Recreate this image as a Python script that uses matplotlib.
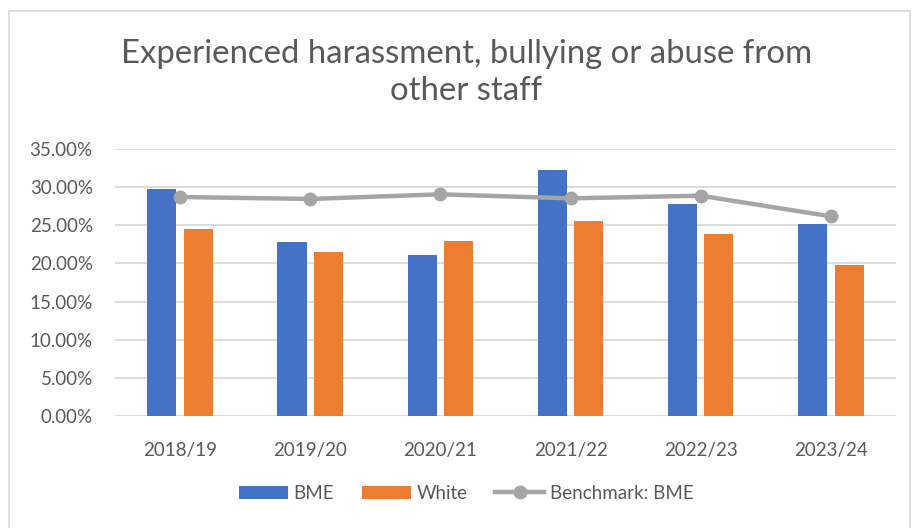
import matplotlib.pyplot as plt
import numpy as np
from matplotlib.patches import Rectangle
from matplotlib.ticker import PercentFormatter

years = ["2018/19", "2019/20", "2020/21", "2021/22", "2022/23", "2023/24"]
bme = [0.2971, 0.2281, 0.2106, 0.3225, 0.2779, 0.2517]
white = [0.2456, 0.2150, 0.2298, 0.2556, 0.2381, 0.1979]
benchmark_bme = [0.2871, 0.2845, 0.2906, 0.2853, 0.2888, 0.2617]

text_col = "#595959"
plt.rcParams["font.family"] = ["Lato", "DejaVu Sans"]

fig = plt.figure(figsize=(9.14, 5.28), dpi=100)
ax = fig.add_axes([0.1258, 0.2121, 0.8545, 0.5057])

x = np.arange(len(years))
w = 0.223
off = 0.14
b1 = ax.bar(x - off, bme, w, color="#4472C4", label="BME", zorder=2)
b2 = ax.bar(x + off, white, w, color="#ED7D31", label="White", zorder=2)
ln, = ax.plot(x, benchmark_bme, color="#A5A5A5", lw=3.2, marker="o", ms=9,
              label="Benchmark: BME", zorder=3)

ax.set_xlim(-0.5, len(years) - 0.5)
ax.set_ylim(0, 0.35)
ax.set_yticks(np.arange(0, 0.351, 0.05))
ax.yaxis.set_major_formatter(PercentFormatter(1.0, decimals=2))
ax.set_xticks(x)
ax.set_xticklabels(years)
ax.grid(axis="y", color="#D9D9D9", lw=1.3, zorder=0)
for s in ax.spines.values():
    s.set_visible(False)
ax.tick_params(length=0, labelsize=13.5, colors=text_col)
ax.tick_params(axis="y", pad=16)
ax.tick_params(axis="x", pad=19)

fig.suptitle("Experienced harassment, bullying or abuse from\nother staff",
             x=0.51, y=0.927, fontsize=23.7, color=text_col, linespacing=1.3)

leg = fig.legend(handles=[b1, b2, ln], loc="center", bbox_to_anchor=(0.51, 0.066),
                 ncol=3, frameon=False, fontsize=13.5, handlelength=2.6,
                 columnspacing=1.5, handletextpad=0.3)
for t in leg.get_texts():
    t.set_color(text_col)

fig.patches.append(Rectangle((9 / 914, -0.05), 901 / 914, 1.03, transform=fig.transFigure,
                             fill=False, edgecolor="#D9D9D9", lw=1.2))

fig.savefig("out.png", dpi=100)
